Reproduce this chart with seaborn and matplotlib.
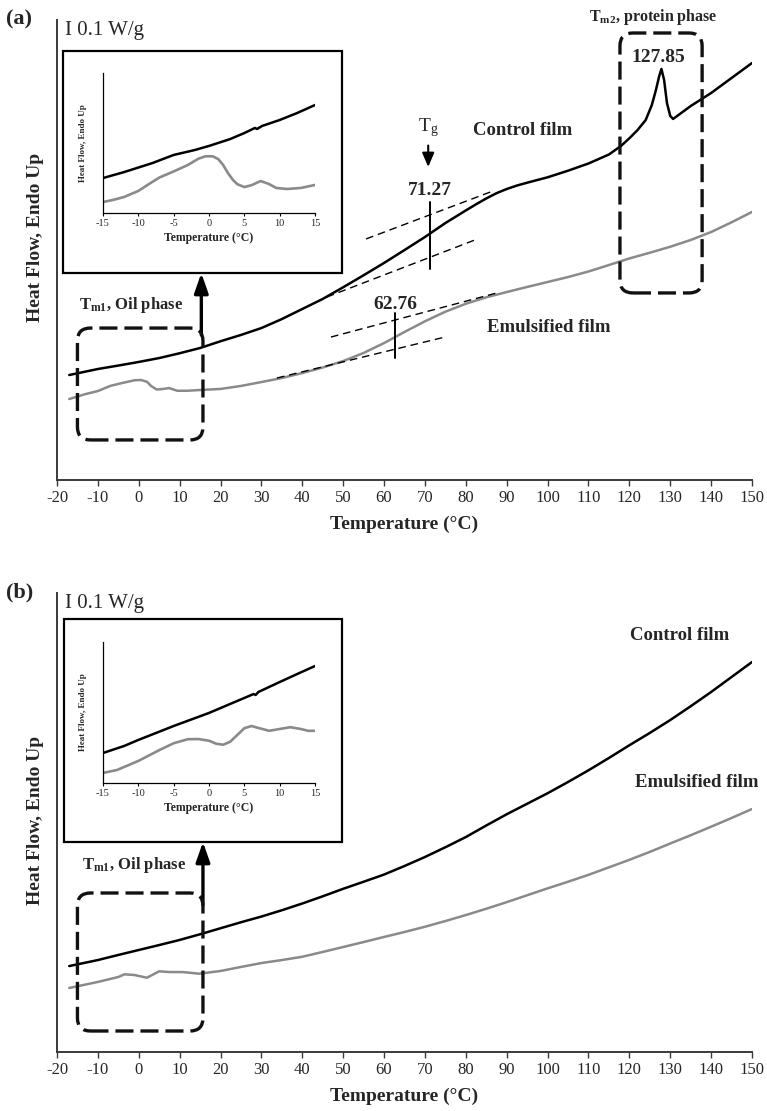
import numpy as np
import pandas as pd
import matplotlib
matplotlib.use("Agg")
import matplotlib.pyplot as plt
import seaborn as sns
from matplotlib.patches import FancyBboxPatch, Rectangle
from matplotlib.transforms import IdentityTransform

# ---------------- data (heat flow, W/g, arbitrary offset) ----------------
# Panel (a) main curves
a_ctrl_T = [-17, -10, -5, 0, 5, 10, 15, 20, 25, 30, 35, 40, 45, 50, 55, 60, 65, 70, 75, 80,
            82.5, 85, 87.5, 90, 92.5, 95, 100, 105, 110, 115, 118, 120, 122, 124, 125.5, 126.5,
            127.3, 127.85, 128.5, 129.2, 130, 130.7, 135, 140, 145, 150]
a_ctrl_HF = [0.700, 0.740, 0.763, 0.787, 0.813, 0.845, 0.880, 0.925, 0.967, 1.013, 1.073, 1.140,
             1.207, 1.285, 1.365, 1.447, 1.533, 1.620, 1.713, 1.797, 1.838, 1.877, 1.912, 1.940,
             1.963, 1.982, 2.018, 2.062, 2.110, 2.170, 2.228, 2.278, 2.333, 2.400, 2.500, 2.600,
             2.693, 2.740, 2.667, 2.513, 2.427, 2.407, 2.493, 2.580, 2.680, 2.780]
a_emul_T = [-17, -13, -10, -7, -4, -1, 0.5, 2, 3, 4.4, 6, 7.4, 9.4, 12, 15, 20, 25, 30, 35, 40,
            45, 50, 55, 60, 65, 70, 75, 80, 85, 90, 95, 100, 105, 110, 115, 120, 125, 130, 135,
            140, 145, 150]
a_emul_HF = [0.540, 0.573, 0.593, 0.627, 0.647, 0.665, 0.667, 0.655, 0.627, 0.603, 0.607, 0.613,
             0.595, 0.595, 0.600, 0.607, 0.627, 0.653, 0.680, 0.713, 0.750, 0.793, 0.847, 0.913,
             0.987, 1.058, 1.122, 1.175, 1.218, 1.253, 1.287, 1.320, 1.353, 1.390, 1.433, 1.477,
             1.515, 1.555, 1.600, 1.653, 1.718, 1.787]

# Panel (a) inset (-15..15 C)
ai_ctrl_T = [-15, -12, -8, -5, -2, 0, 3, 5, 6.5, 6.8, 7.5, 10, 12.5, 15]
ai_ctrl_HF = [0.233, 0.273, 0.333, 0.387, 0.420, 0.447, 0.493, 0.533, 0.567, 0.560, 0.580, 0.620,
              0.667, 0.720]
ai_emul_T = [-15, -13.5, -12, -10, -8.5, -7, -5, -3, -1.5, -0.5, 0.5, 1.3, 2, 2.7, 3.4, 4, 5, 6,
             7.3, 8.5, 9.5, 11, 13, 15]
ai_emul_HF = [0.073, 0.088, 0.107, 0.147, 0.193, 0.237, 0.277, 0.320, 0.362, 0.378, 0.378, 0.360,
              0.320, 0.265, 0.220, 0.192, 0.173, 0.185, 0.213, 0.193, 0.167, 0.160, 0.167, 0.187]

# Panel (b) main curves
b_ctrl_T = [-17, -10, -5, 0, 5, 10, 15, 20, 25, 30, 35, 40, 45, 50, 55, 60, 65, 70, 75, 80, 85,
            90, 95, 100, 105, 110, 115, 120, 125, 130, 135, 140, 145, 150]
b_ctrl_HF = [0.573, 0.613, 0.647, 0.680, 0.713, 0.747, 0.785, 0.825, 0.865, 0.903, 0.945, 0.990,
             1.038, 1.088, 1.135, 1.183, 1.240, 1.300, 1.365, 1.433, 1.510, 1.585, 1.655, 1.725,
             1.800, 1.878, 1.960, 2.045, 2.127, 2.213, 2.305, 2.400, 2.500, 2.600]
b_emul_T = [-17, -10, -5, -3.5, -1, 2, 5, 7.5, 10.7, 14.8, 20, 25, 30, 35, 40, 45, 50, 55, 60, 65,
            70, 75, 80, 85, 90, 95, 100, 105, 110, 115, 120, 125, 130, 135, 140, 145, 150]
b_emul_HF = [0.427, 0.467, 0.500, 0.518, 0.513, 0.495, 0.538, 0.533, 0.533, 0.522, 0.540, 0.567,
             0.593, 0.613, 0.635, 0.667, 0.700, 0.733, 0.767, 0.800, 0.835, 0.873, 0.913, 0.955,
             0.999, 1.045, 1.091, 1.135, 1.181, 1.231, 1.281, 1.334, 1.390, 1.445, 1.502, 1.560,
             1.620]

# Panel (b) inset
bi_ctrl_T = [-15, -12, -10, -5, 0, 5, 6.3, 6.6, 7, 10, 12.5, 15]
bi_ctrl_HF = [0.200, 0.247, 0.287, 0.380, 0.467, 0.567, 0.593, 0.587, 0.607, 0.673, 0.727, 0.780]
bi_emul_T = [-15, -13, -10, -7, -5, -3, -1.5, 0, 1, 2, 3, 4, 5, 6, 7, 8.5, 10, 11.5, 13, 14, 15]
bi_emul_HF = [0.067, 0.087, 0.147, 0.220, 0.265, 0.292, 0.293, 0.282, 0.262, 0.255, 0.275, 0.320,
              0.365, 0.380, 0.367, 0.348, 0.360, 0.372, 0.360, 0.348, 0.348]

x_ticks = list(range(-20, 151, 10))
inset_ticks = list(range(-15, 16, 5))

# Glass transition / melting annotations (panel a)
tg_ctrl = 71.27
tg_emul = 62.76
tm2_peak = 127.85

# ---------------- style ----------------
sns.set_theme(style="white")
plt.rcParams["font.family"] = ["Liberation Serif", "DejaVu Serif"]
plt.rcParams["mathtext.fontset"] = "custom"
plt.rcParams["mathtext.rm"] = "Liberation Serif"
plt.rcParams["mathtext.it"] = "Liberation Serif:italic"
plt.rcParams["mathtext.bf"] = "Liberation Serif:bold"
plt.rcParams["lines.scale_dashes"] = False

W, H = 767, 1111
fig = plt.figure(figsize=(W / 100, H / 100), dpi=100)


def rect(l, t, r, b):
    return [l / W, 1 - b / H, (r - l) / W, (b - t) / H]


CTRL = "#000000"
EMUL = "#8a8a8a"
SPINE = "#3a3a3a"


def draw(ax, T, HF, color, lw):
    df = pd.DataFrame({"T": T, "HF": HF})
    sns.lineplot(data=df, x="T", y="HF", color=color, lw=lw, ax=ax, legend=False,
                 estimator=None, sort=False)


def style_main(ax, ytop):
    ax.set_xlim(-20, 150)
    ax.set_ylim(0, ytop)
    ax.set_xticks(x_ticks)
    ax.set_xticklabels([str(t) for t in x_ticks], fontsize=12)
    ax.set_yticks([])
    for s in ["top", "right"]:
        ax.spines[s].set_visible(False)
    for s in ["left", "bottom"]:
        ax.spines[s].set_color(SPINE)
        ax.spines[s].set_linewidth(1.4)
    ax.tick_params(axis="x", direction="out", length=4.5, width=1.0, color=SPINE, pad=3,
                   bottom=True)
    ax.set_xlabel("Temperature (°C)", fontsize=14, fontweight="bold", labelpad=7)
    ax.set_ylabel("Heat Flow, Endo Up", fontsize=14, fontweight="bold")


def style_inset(ax, ytop):
    ax.set_xlim(-15, 15)
    ax.set_ylim(0, ytop)
    ax.set_xticks(inset_ticks)
    ax.set_xticklabels([str(t) for t in inset_ticks], fontsize=7.5)
    ax.set_yticks([])
    ax.patch.set_alpha(0)
    for s in ["top", "right"]:
        ax.spines[s].set_visible(False)
    for s in ["left", "bottom"]:
        ax.spines[s].set_color("black")
        ax.spines[s].set_linewidth(0.9)
    ax.tick_params(axis="x", direction="out", length=2.5, width=0.8, color="black", pad=2,
                   bottom=True)
    ax.set_xlabel("Temperature (°C)", fontsize=8.5, fontweight="bold", labelpad=3)
    ax.set_ylabel("Heat Flow, Endo Up", fontsize=6.5, fontweight="bold")
    ax.yaxis.set_label_coords(-0.075, 0.5)


def dashed_box(ax, x0, y0, x1, y1):
    (px0, py0), (px1, py1) = ax.transData.transform([(x0, y0), (x1, y1)])
    p = FancyBboxPatch((min(px0, px1), min(py0, py1)), abs(px1 - px0), abs(py1 - py0),
                       boxstyle="round,pad=0,rounding_size=13", transform=IdentityTransform(),
                       fill=False, ec="#111111", lw=2.4, ls=(0, (13, 5)), zorder=5)
    fig.add_artist(p)


def arrow(ax, x, y0, y1, lw, hl, hw):
    ax.annotate("", xy=(x, y1), xytext=(x, y0), annotation_clip=False,
                arrowprops=dict(arrowstyle=f"-|>,head_length={hl},head_width={hw}",
                                lw=lw, color="black", shrinkA=0, shrinkB=0))


def inset_frame(l, t, r, b):
    fig.add_artist(Rectangle((l / W, 1 - b / H), (r - l) / W, (b - t) / H,
                             transform=fig.transFigure, fill=True, fc="white", ec="black",
                             lw=1.6, zorder=1))


# ================= Panel (a) =================
ax_a = fig.add_axes(rect(57, 20, 752, 480))
ya_top = 460 / 150
style_main(ax_a, ya_top)
ax_a.yaxis.set_label_coords(-0.019, 0.528)
draw(ax_a, a_ctrl_T, a_ctrl_HF, CTRL, 1.8)
draw(ax_a, a_emul_T, a_emul_HF, EMUL, 1.8)

# tangents for Tg
tk = dict(color="black", lw=1.0, ls=(0, (5.5, 3.5)))
ax_a.plot([55.6, 86.0], [1.607, 1.920], **tk)
ax_a.plot([46.0, 82.2], [1.220, 1.600], **tk)
ax_a.plot([47.0, 87.6], [0.953, 1.247], **tk)
ax_a.plot([33.8, 74.9], [0.680, 0.953], **tk)
ax_a.plot([tg_ctrl, tg_ctrl], [1.407, 1.853], color="black", lw=1.4)
ax_a.plot([tg_emul, tg_emul], [0.813, 1.113], color="black", lw=1.4)

ax_a.text(tg_ctrl, 1.933, f"{tg_ctrl:.2f}", ha="center", va="center", fontsize=14,
          fontweight="bold")
ax_a.text(tg_emul, 1.167, f"{tg_emul:.2f}", ha="center", va="center", fontsize=14,
          fontweight="bold")
ax_a.text(127.0, 2.82, f"{tm2_peak:.2f}", ha="center", va="center", fontsize=14,
          fontweight="bold")
ax_a.text(70.8, 2.347, r"T$_{\mathrm{g}}$", ha="center", va="center", fontsize=14)
arrow(ax_a, 70.8, 2.23, 2.087, 1.5, 0.7, 0.3)
ax_a.text(94.0, 2.333, "Control film", ha="center", va="center", fontsize=13.5,
          fontweight="bold")
ax_a.text(100.3, 1.02, "Emulsified film", ha="center", va="center", fontsize=13.5,
          fontweight="bold")
ax_a.text(125.8, 3.087, r"T$_{\mathbf{m2}}$, protein phase", ha="center", va="center",
          fontsize=11.5, fontweight="bold", clip_on=False)
ax_a.text(-14.6, 1.167, r"T$_{\mathbf{m1}}$, Oil phase", ha="left", va="center",
          fontsize=12, fontweight="bold")
ax_a.text(-18.0, 3.0, "I 0.1 W/g", ha="left", va="center", fontsize=15)

dashed_box(ax_a, -15.0, 0.267, 15.7, 1.013)
dashed_box(ax_a, 117.7, 1.247, 137.8, 2.98)
arrow(ax_a, 15.3, 0.967, 1.38, 2.4, 1.0, 0.35)

inset_frame(63, 51, 342, 273)
ax_ai = fig.add_axes(rect(103, 73, 315, 213))
ax_ai.set_zorder(3)
style_inset(ax_ai, 140 / 150)
draw(ax_ai, ai_ctrl_T, ai_ctrl_HF, CTRL, 1.8)
draw(ax_ai, ai_emul_T, ai_emul_HF, EMUL, 1.9)

fig.text(19 / W, 1 - 19 / H, "(a)", ha="center", va="center", fontsize=16, fontweight="bold")

# ================= Panel (b) =================
ax_b = fig.add_axes(rect(57, 593, 752, 1052))
yb_top = 459 / 150
style_main(ax_b, yb_top)
ax_b.yaxis.set_label_coords(-0.019, 0.505)
draw(ax_b, b_ctrl_T, b_ctrl_HF, CTRL, 1.8)
draw(ax_b, b_emul_T, b_emul_HF, EMUL, 1.8)

ax_b.text(132.4, 2.78, "Control film", ha="center", va="center", fontsize=13.5,
          fontweight="bold")
ax_b.text(136.6, 1.80, "Emulsified film", ha="center", va="center", fontsize=13.5,
          fontweight="bold")
ax_b.text(-13.9, 1.247, r"T$_{\mathbf{m1}}$, Oil phase", ha="left", va="center",
          fontsize=12, fontweight="bold")
ax_b.text(-18.0, 2.993, "I 0.1 W/g", ha="left", va="center", fontsize=15)

dashed_box(ax_b, -15.0, 0.14, 15.7, 1.06)
arrow(ax_b, 15.7, 0.98, 1.40, 2.4, 1.0, 0.35)

inset_frame(64, 619, 342, 842)
ax_bi = fig.add_axes(rect(103, 642, 315, 783))
ax_bi.set_zorder(3)
style_inset(ax_bi, 141 / 150)
draw(ax_bi, bi_ctrl_T, bi_ctrl_HF, CTRL, 1.8)
draw(ax_bi, bi_emul_T, bi_emul_HF, EMUL, 1.9)

fig.text(20 / W, 1 - 592 / H, "(b)", ha="center", va="center", fontsize=16, fontweight="bold")

fig.savefig("out.png", dpi=100)
